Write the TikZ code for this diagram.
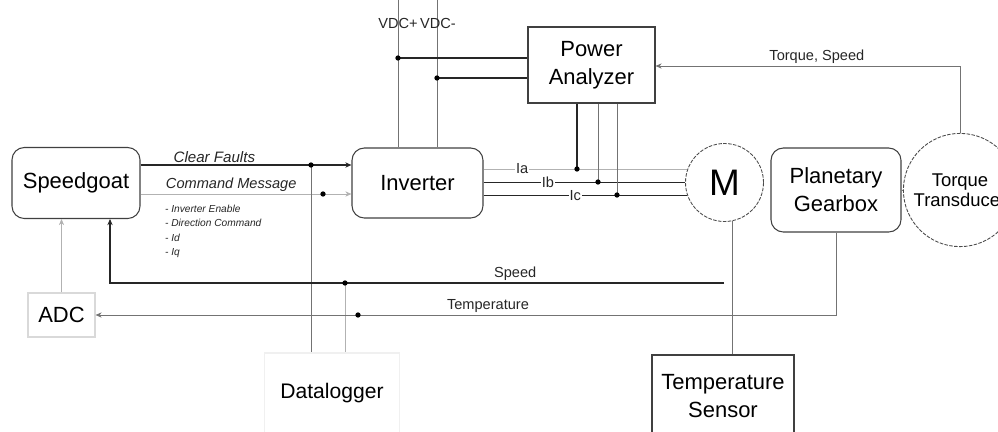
\documentclass[tikz,border=0pt]{standalone}
\usepackage{fontspec}
\setmainfont{Liberation Sans}
\usetikzlibrary{arrows.meta,positioning,calc}

\begin{document}
\begin{tikzpicture}[>={Stealth[length=3.5pt,width=3pt]}, x=0.2mm, y=-0.2mm,
  rbox/.style={draw=black!75,line width=0.6pt,rounded corners=7pt,align=center,
    font=\fontsize{12.5}{16}\selectfont},
  sbox/.style={draw=black!75,line width=0.6pt,align=center,font=\fontsize{12.5}{16}\selectfont},
  ring/.style={circle,draw=black!70,line width=0.5pt,dash pattern=on 2pt off 0.8pt,align=center},
  dark/.style={black!85,line width=0.7pt},
  wire/.style={black!55,line width=0.45pt},
  pale/.style={black!30,line width=0.45pt},
  lab/.style={text=black!85,font=\fontsize{8.3}{10}\selectfont,inner sep=1pt},
  cur/.style={lab,fill=white,inner sep=0.5pt}]
  \useasboundingbox (0,0) rectangle (998,432);
  % blocks
  \node[rbox,minimum width=2.56cm,minimum height=1.42cm] (sg) at (76,183) {Speedgoat};
  \node[rbox,minimum width=2.62cm,minimum height=1.40cm] (inv) at (417.5,183) {Inverter};
  \node[sbox,minimum width=2.54cm,minimum height=1.52cm] (pa) at (591.5,65) {Power\\Analyzer};
  \node[ring,minimum size=1.56cm,font=\fontsize{21}{24}\selectfont] (m) at (724.5,182.5) {M};
  \node[rbox,minimum width=2.6cm,minimum height=1.68cm] (pg) at (836,190) {Planetary\\Gearbox};
  \node[ring,minimum size=1.88cm,font=\fontsize{10.5}{11.5}\selectfont] (tt) at (960,190) {Torque\\Transducer};
  \node[sbox,minimum width=2.84cm,minimum height=1.64cm] (ts) at (723,396) {Temperature\\Sensor};
  \node[sbox,draw=black!15,minimum width=1.34cm,minimum height=0.88cm] (adc) at (61.5,315) {ADC};
  \node[sbox,draw=black!6,minimum width=2.7cm,minimum height=1.6cm,font=\fontsize{12}{14}\selectfont] (dl) at (332,393) {Datalogger};
  % junctions
  \coordinate (cf) at (311,165); \coordinate (cm) at (323,194);
  \coordinate (sp) at (345,283); \coordinate (tp) at (358,315);
  \coordinate (vp) at (398,58);  \coordinate (vn) at (437,78);
  \coordinate (ja) at (577,169); \coordinate (jb) at (598,182); \coordinate (jc) at (617,195);
  % control signals
  \draw[->,dark] (sg.east |- cf) -- node[lab,above,pos=0.35,font=\fontsize{8.6}{10}\itshape] {Clear Faults} (inv.west |- cf);
  \draw[->,pale] (sg.east |- cm) -- node[lab,above,pos=0.43,font=\fontsize{8.3}{10}\itshape] {Command Message} (inv.west |- cm);
  \node[lab,anchor=north west,align=left,font=\fontsize{5.8}{8.2}\itshape] (cmd) at (163,203)
    {- Inverter Enable\\- Direction Command\\- Id\\- Iq};
  \draw[wire] (cf) -- (cf |- dl.north);
  \draw[pale] (sp) -- (sp |- dl.north);
  % feedback
  \draw[->,dark] (724,283) -- node[lab,above,pos=0.34] {Speed} (110,283) -- (110,219);
  \draw[->,wire] (pg.south) -- (pg.south |- tp) -- node[lab,above,pos=0.47] {Temperature} (adc.east);
  \draw[->,pale] (adc.north) -- (adc.north |- sg.south);
  % dc link
  \draw[wire] (vp |- 0,0) -- (vp |- inv.north);
  \draw[wire] (vn |- 0,0) -- (vn |- inv.north);
  \node[lab] (vdc) at (417,23) {VDC+\,VDC-};
  \draw[dark,line width=0.6pt] (vp) -- (vp -| pa.west);
  \draw[dark,line width=1pt] (vn) -- (vn -| pa.west);
  % phase currents
  \draw[pale] (inv.east |- m.160) -- node[cur,pos=0.19] {Ia} (m.160);
  \draw[dark,line width=0.9pt] (inv.east |- m.west) -- node[cur,pos=0.32] {Ib} (m.west);
  \draw[dark] (inv.east |- m.199) -- node[cur,pos=0.45] {Ic} (m.199);
  \draw[dark] (ja |- pa.south) -- (ja);
  \draw[wire] (jb |- pa.south) -- (jb);
  \draw[wire] (jc |- pa.south) -- (jc);
  % mechanics
  \draw[wire] (m.-78) -- (m.-78 |- ts.north);
  \draw[wire] (pg.east) -- (tt.west);
  \draw[->,wire] (tt.north) -- (tt.north |- 0,66) -- node[lab,above,pos=0.47] {Torque, Speed} (pa.east |- 0,66);
  % dots
  \foreach \p in {cf,cm,sp,tp,vp,vn,ja,jb,jc}
    \fill (\p) circle[radius=1.5pt];
\end{tikzpicture}
\end{document}
